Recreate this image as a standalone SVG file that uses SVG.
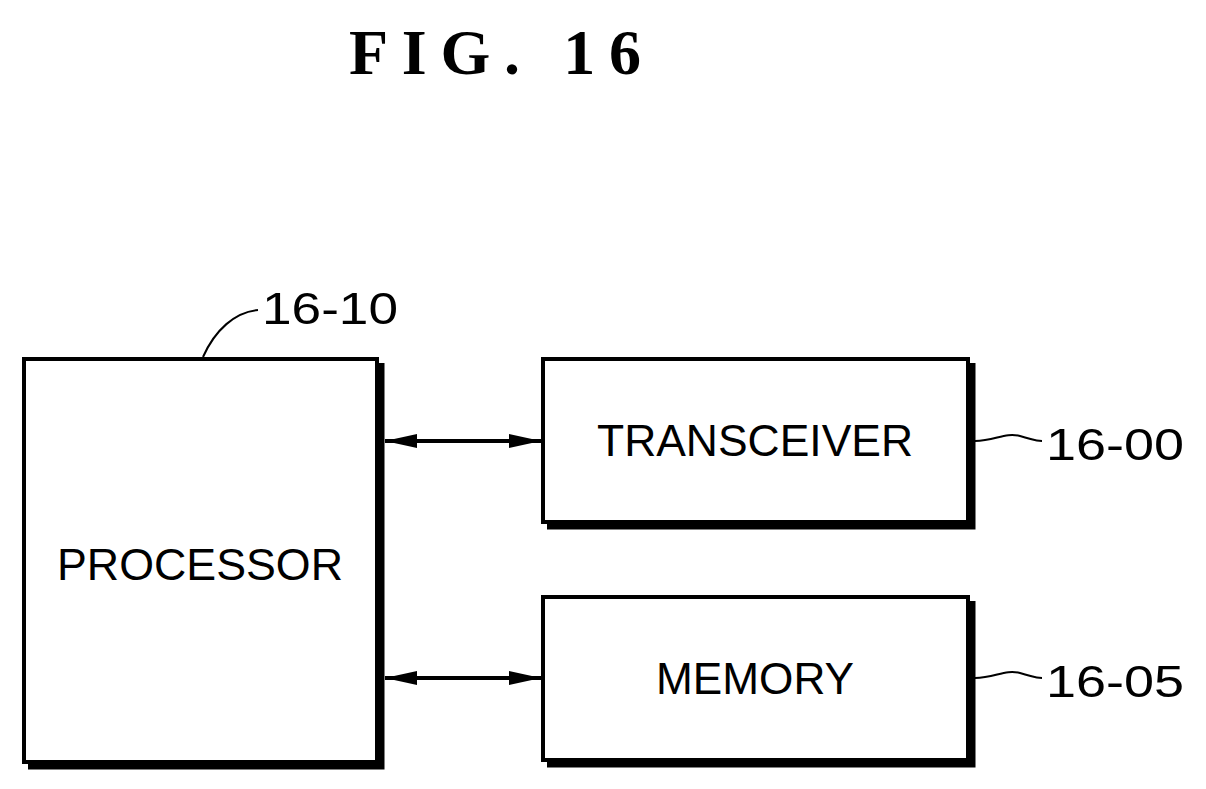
<svg xmlns="http://www.w3.org/2000/svg" width="1206" height="789" viewBox="0 0 1206 789">
<style>
.b{fill:#fff;stroke:#000;stroke-width:4}
.s{fill:none;stroke:#000;stroke-width:7}
.t{font-family:"Liberation Sans",Arial,sans-serif;font-size:45px;fill:#000}
.l{fill:none;stroke:#000;stroke-width:2}
</style>
<defs>
<marker id="a" markerWidth="32" markerHeight="14" refX="32" refY="7" orient="auto-start-reverse" markerUnits="userSpaceOnUse" viewBox="0 0 32 14"><path d="M0,0L32,7L0,14z"/></marker>
</defs>
<rect width="1206" height="789" fill="#fff"/>
<text x="495" y="74" text-anchor="middle" font-family="Liberation Serif,serif" font-weight="bold" font-size="64" textLength="292" lengthAdjust="spacing">FIG. 16</text>
<g id="processor">
<rect class="b" x="24" y="359" width="353" height="403"/>
<path class="s" d="M381,363V766H28"/>
<text class="t" x="200" y="580" text-anchor="middle" textLength="286" lengthAdjust="spacingAndGlyphs">PROCESSOR</text>
<path class="l" d="M203,357C215,330 235,312 258,310"/>
<text class="t" x="262" y="324" textLength="136" lengthAdjust="spacingAndGlyphs">16-10</text>
</g>
<g id="transceiver">
<rect class="b" x="543" y="359" width="425" height="163"/>
<path class="s" d="M972,363V526H547"/>
<text class="t" x="755" y="456" text-anchor="middle" textLength="316" lengthAdjust="spacingAndGlyphs">TRANSCEIVER</text>
<path class="l" d="M975,441C995,441 1005,432 1020,436S1035,441 1042,441"/>
<text class="t" x="1046" y="460" textLength="138" lengthAdjust="spacingAndGlyphs">16-00</text>
</g>
<g id="memory">
<rect class="b" x="543" y="597" width="425" height="163"/>
<path class="s" d="M972,601V764H547"/>
<text class="t" x="755" y="694" text-anchor="middle" textLength="198" lengthAdjust="spacingAndGlyphs">MEMORY</text>
<path class="l" d="M975,678C995,678 1005,669 1020,673S1035,678 1042,678"/>
<text class="t" x="1046" y="697" textLength="138" lengthAdjust="spacingAndGlyphs">16-05</text>
</g>
<g id="connectors" stroke="#000" stroke-width="4">
<line x1="385" y1="441" x2="541" y2="441" marker-start="url(#a)" marker-end="url(#a)"/>
<line x1="385" y1="678" x2="541" y2="678" marker-start="url(#a)" marker-end="url(#a)"/>
</g>
</svg>
